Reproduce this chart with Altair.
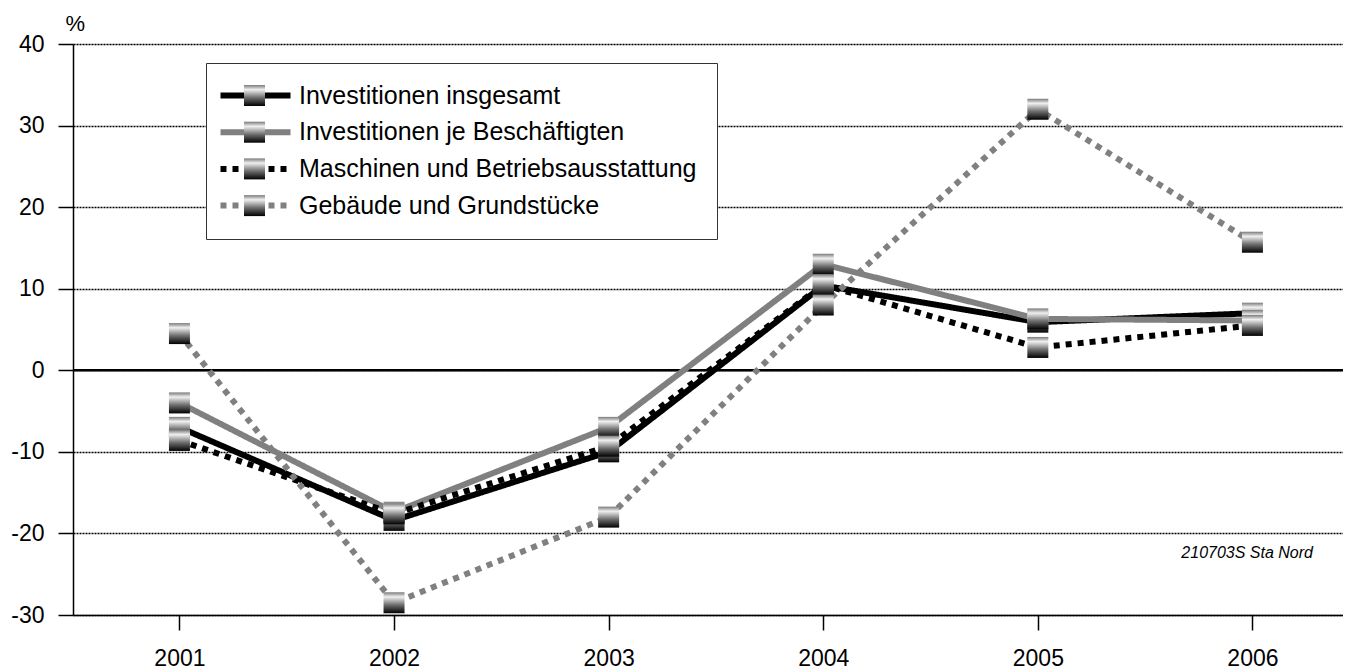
import altair as alt
import pandas as pd

years = [2001, 2002, 2003, 2004, 2005, 2006]
series_names = [
    "Investitionen insgesamt",
    "Investitionen je Beschäftigten",
    "Maschinen und Betriebsausstattung",
    "Gebäude und Grundstücke",
]
insgesamt = [-7.0, -18.4, -10.0, 10.4, 5.9, 7.0]
je_beschaeftigten = [-4.0, -17.4, -7.0, 13.0, 6.3, 6.1]
maschinen = [-8.6, -17.6, -9.3, 10.5, 2.8, 5.5]
gebaeude = [4.5, -28.5, -18.0, 8.0, 32.0, 15.7]
y_ticks = [-30, -20, -10, 0, 10, 20, 30, 40]
source_note = "210703S Sta Nord"

values = [insgesamt, je_beschaeftigten, maschinen, gebaeude]
marker_keys = ["m_" + n for n in series_names]
rows = []
for name, key, vals in zip(series_names, marker_keys, values):
    for yr, v in zip(years, vals):
        rows.append({"year": yr, "value": v, "series": name, "marker": key})
df = pd.DataFrame(rows)

FONT = "Liberation Sans"
W, H = 1270, 571

x_enc = alt.X("year:Q",
              scale=alt.Scale(domain=[2000.504, 2006.422], nice=False, zero=False),
              axis=alt.Axis(values=years, format="d", grid=False, title=None,
                            tickSize=15, tickColor="black", tickWidth=1.5,
                            domainColor="black", domainWidth=1.5,
                            labelFontSize=23, labelPadding=17, labelColor="black",
                            labelFont=FONT))
y_enc = alt.Y("value:Q",
              scale=alt.Scale(domain=[-30, 40], nice=False),
              axis=alt.Axis(values=y_ticks, grid=True, gridDash=[2, 1], gridColor="black",
                            gridWidth=1.5, tickSize=15, tickColor="black", tickWidth=1.5,
                            domainColor="black", domainWidth=1.5,
                            labelFontSize=23, labelPadding=14, labelColor="black",
                            labelFont=FONT, labelExpr="datum.value + ''",
                            title="%", titleAngle=0, titleX=-8, titleY=-14,
                            titleAlign="left", titleBaseline="alphabetic",
                            titleFontSize=22, titleFontWeight="normal",
                            titleFont=FONT, titleColor="black"))

zero = alt.Chart(pd.DataFrame({"value": [0]})).mark_rule(color="black", strokeWidth=2.5).encode(
    y=y_enc
)

legend_common = dict(title=None, orient="none", legendY=19, padding=20,
                     labelFontSize=25, labelFont=FONT, labelOffset=48,
                     rowPadding=10.7, labelLimit=600)

line_legend = alt.Legend(legendX=133, strokeColor="#333333", fillColor="white",
                         symbolType="M-2,0H5.78", symbolSize=324,
                         symbolStrokeWidth=6, labelColor="black", **legend_common)

lines = alt.Chart(df).mark_line(strokeWidth=6, strokeCap="butt").encode(
    x=x_enc,
    y="value:Q",
    color=alt.Color("series:N",
                    scale=alt.Scale(domain=series_names,
                                    range=["#000000", "#808080", "#000000", "#808080"]),
                    legend=line_legend),
    strokeDash=alt.StrokeDash("series:N",
                              scale=alt.Scale(domain=series_names,
                                              range=[[1, 0], [1, 0], [6, 6], [6, 6]]),
                              legend=line_legend),
)

grad = {
    "gradient": "linear", "x1": 0, "y1": 0, "x2": 0, "y2": 1,
    "stops": [
        {"offset": 0, "color": "#7a7a7a"},
        {"offset": 0.22, "color": "#f0f0f0"},
        {"offset": 0.6, "color": "#6e6e6e"},
        {"offset": 1, "color": "#000000"},
    ],
}

points = alt.Chart(df).mark_point(filled=True, size=441, fill=grad, opacity=1,
                                  strokeWidth=0).encode(
    x="year:Q",
    y="value:Q",
    shape=alt.Shape("marker:N",
                    scale=alt.Scale(domain=marker_keys, range=["square"] * 4),
                    legend=alt.Legend(legendX=149, symbolSize=441, symbolStrokeWidth=0,
                                      symbolOpacity=1, labelExpr="''", **legend_common)),
)

note = alt.Chart(pd.DataFrame({"t": [source_note]})).mark_text(
    align="right", baseline="alphabetic", fontSize=16, fontStyle="italic",
    font=FONT, color="black"
).encode(x=alt.value(1240), y=alt.value(514), text="t:N")

chart = alt.layer(zero, lines, points, note).properties(
    width=W, height=H,
    autosize=alt.AutoSizeParams(type="none"),
    padding={"left": 65, "top": 36, "right": 0, "bottom": 56},
).configure_view(strokeWidth=0).configure(background="white")

chart.save("out.html", embed_options={"renderer": "svg", "actions": False})
